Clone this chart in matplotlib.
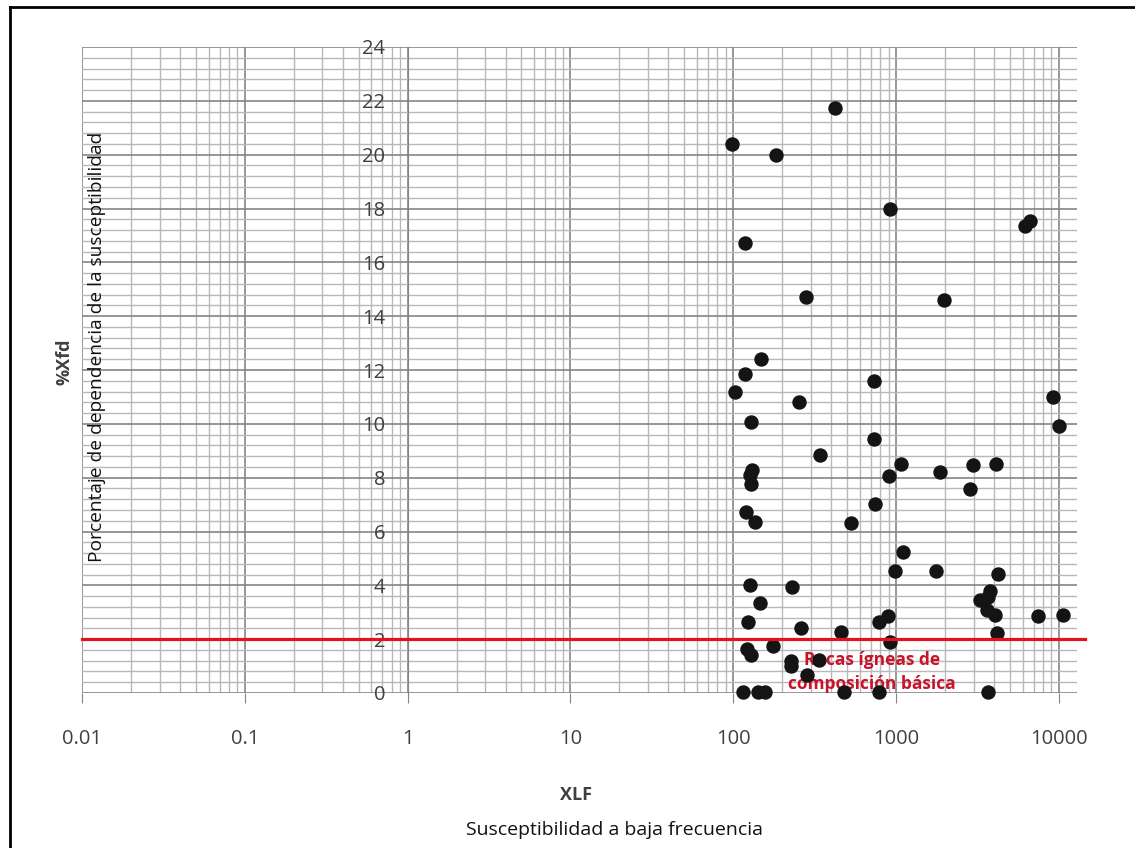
import matplotlib
matplotlib.use("Agg")
import matplotlib.pyplot as plt
import numpy as np
from matplotlib.ticker import FixedLocator, FuncFormatter
from matplotlib.lines import Line2D

# susceptibilidad a baja frecuencia (XLF) y %Xfd
xlf = [420, 98, 183, 925, 6200, 6700, 118, 279, 1980, 148,
       118, 103, 728, 253, 9200, 10030, 128, 728, 340, 1067,
       2990, 4120, 1870, 130, 127, 128, 900, 2860, 748, 120,
       136, 526, 1112, 993, 1760, 4240, 127, 229, 146, 3780,
       3650, 3280, 3620, 4050, 7450, 10600, 123, 260, 457, 782,
       890, 4170, 925, 122, 128, 176, 227, 227, 336, 284,
       115, 142, 157, 479, 785, 3670]
xfd = [21.75, 20.4, 20.0, 18.0, 17.35, 17.55, 16.7, 14.7, 14.6, 12.4,
       11.85, 11.2, 11.6, 10.8, 11.0, 9.93, 10.07, 9.44, 8.85, 8.51,
       8.48, 8.51, 8.22, 8.3, 8.1, 7.75, 8.05, 7.58, 7.03, 6.73,
       6.36, 6.32, 5.22, 4.54, 4.53, 4.42, 4.01, 3.92, 3.35, 3.8,
       3.58, 3.46, 3.09, 2.9, 2.86, 2.9, 2.64, 2.42, 2.28, 2.64,
       2.86, 2.23, 1.9, 1.64, 1.4, 1.75, 1.18, 1.0, 1.23, 0.67,
       0.05, 0.05, 0.05, 0.05, 0.05, 0.05]

limite = 2.0
x_ticks = [0.01, 0.1, 1, 10, 100, 1000, 10000]
x_labels = ["0.01", "0.1", "1", "10", "100", "1000", "10000"]
y_ticks = list(range(0, 25, 2))

plt.rcParams['font.family'] = ['Open Sans', 'DejaVu Sans']

W, H = 1135, 848
fig = plt.figure(figsize=(W/100, H/100), dpi=100)
ax = fig.add_axes([82/W, 1-693/H, (1077-82)/W, (693-47)/H])

ax.set_xscale('log')
ax.set_xlim(0.01, 10**4.112)
ax.set_ylim(0, 24)

# grid
minx = [m*10.0**e for e in range(-2, 5) for m in range(2, 10)]
ax.xaxis.set_major_locator(FixedLocator(x_ticks))
ax.xaxis.set_minor_locator(FixedLocator(minx))
ax.yaxis.set_major_locator(FixedLocator(y_ticks))
ax.yaxis.set_minor_locator(FixedLocator(np.arange(0, 24.01, 0.4)))
ax.xaxis.set_major_formatter(FuncFormatter(lambda v, p: x_labels[x_ticks.index(v)] if v in x_ticks else ""))
ax.grid(which='major', color='#858585', lw=1.2)
ax.grid(which='minor', color='#b8b8b8', lw=1.0)
ax.set_axisbelow(True)

for s in ['top', 'right', 'bottom']:
    ax.spines[s].set_visible(False)
ax.spines['left'].set_position(('data', 1))
ax.spines['left'].set_color('#858585')

ax.tick_params(axis='x', which='major', length=7, color='#858585', pad=19,
               labelsize=14.5, labelcolor='#404040')
ax.tick_params(axis='x', which='minor', length=0)
ax.tick_params(axis='y', which='both', length=0, pad=16,
               labelsize=14.5, labelcolor='#404040')

ax.scatter(xlf, xfd, s=88, color='#141414', zorder=4, clip_on=False)

ax.axhline(limite, xmin=0, xmax=(1085-82)/(1077-82), color='#e0141c', lw=2.3,
           clip_on=False, zorder=5)

ax.text(713, 0.78, "Rocas ígneas de\ncomposición básica", color='#c8142a',
        fontsize=12.5, fontweight='bold', ha='center', va='center',
        linespacing=1.45, zorder=3)

fig.text(65/W, 1-362/H, "%Xfd", rotation=90, fontsize=13, fontweight='bold',
         color='#404040', ha='center', va='center')
fig.text(97/W, 1-347/H, "Porcentaje de dependencia de la susceptibilidad",
         rotation=90, fontsize=13.8, color='#111111', ha='center', va='center')
fig.text(576/W, 1-795/H, "XLF", fontsize=13, fontweight='bold',
         color='#404040', ha='center', va='center')
fig.text(615/W, 1-830/H, "Susceptibilidad a baja frecuencia",
         fontsize=14, color='#111111', ha='center', va='center')

# marco de la figura (solo arriba e izquierda)
fig.add_artist(Line2D([10/W, 1], [1-7/H, 1-7/H], color='black', lw=2,
                      transform=fig.transFigure))
fig.add_artist(Line2D([10/W, 10/W], [0, 1-7/H], color='black', lw=2,
                      transform=fig.transFigure))

fig.savefig('out.png', dpi=100)
